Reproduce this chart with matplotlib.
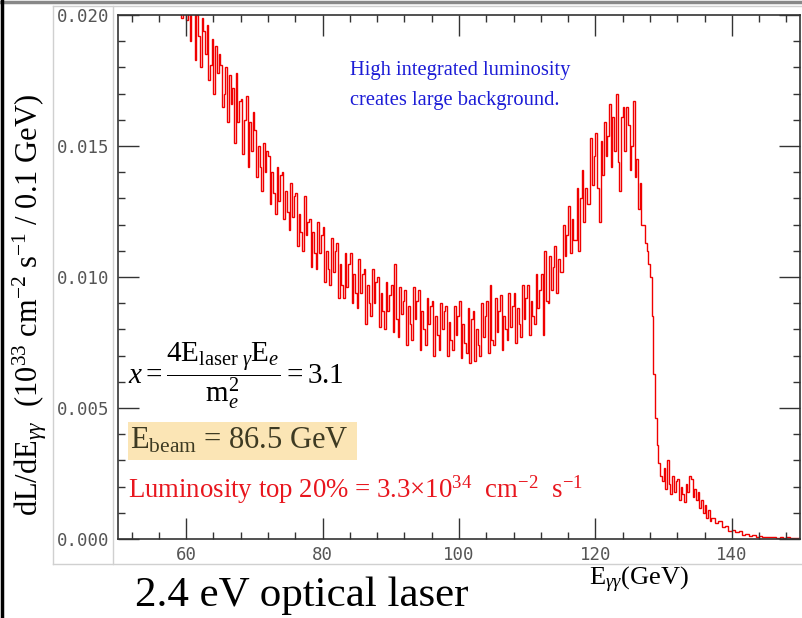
import matplotlib
matplotlib.use('Agg')
import matplotlib.pyplot as plt
import numpy as np
from matplotlib.patches import Rectangle
from matplotlib.lines import Line2D
from matplotlib.ticker import MultipleLocator, FormatStrFormatter

plt.rcParams['mathtext.fontset'] = 'custom'
plt.rcParams['mathtext.rm'] = 'Liberation Serif'
plt.rcParams['mathtext.it'] = 'Liberation Serif:italic'
plt.rcParams['mathtext.bf'] = 'Liberation Serif:bold'
plt.rcParams['font.family'] = ['Liberation Serif', 'DejaVu Serif']

# ---- data: dL/dE_gg in units of 1e-3 (10^33 cm^-2 s^-1 / 0.1 GeV)
# fine part: 0.25 GeV bins from 58 to 137 GeV (4 values per GeV per line)
fine_start, fine_width = 58.0, 0.25
lum_fine_e3 = [
    21.8, 20.8, 22.3, 20.5,   # 58
    21.4, 19.9, 20.6, 21.7,   # 59
    19.8, 21.3, 19.0, 20.8,   # 60
    20.3, 18.3, 20.0, 19.2,   # 61
    18.0, 19.9, 19.4, 18.5,   # 62
    19.6, 17.5, 18.1, 19.1,   # 63
    17.0, 18.8, 17.8, 18.5,   # 64
    18.1, 16.5, 17.0, 18.0,   # 65
    15.9, 17.7, 16.6, 17.2,   # 66
    15.1, 17.8, 15.9, 16.7,   # 67
    16.8, 14.7, 16.0, 16.9,   # 68
    14.2, 15.9, 14.8, 16.3,   # 69
    15.6, 13.8, 15.0, 14.2,   # 70
    13.3, 15.1, 14.0, 14.8,   # 71
    14.6, 12.8, 14.0, 13.2,   # 72
    12.4, 14.2, 12.9, 13.9,   # 73
    14.0, 12.2, 13.3, 12.5,   # 74
    11.8, 13.6, 12.3, 13.1,   # 75
    13.2, 11.2, 12.4, 11.7,   # 76
    11.0, 13.1, 11.6, 12.1,   # 77
    12.2, 10.4, 11.7, 10.9,   # 78
    10.3, 12.1, 10.9, 11.6,   # 79
    11.9, 9.8, 11.0, 10.3,    # 80
    9.7, 11.5, 10.2, 11.0,    # 81
    11.3, 9.2, 10.5, 9.7,     # 82
    9.2, 10.9, 9.6, 10.5,     # 83
    10.9, 9.0, 10.1, 9.4,     # 84
    8.8, 10.7, 9.4, 10.1,     # 85
    10.3, 8.2, 9.7, 9.0,      # 86
    8.5, 10.3, 9.0, 9.8,      # 87
    10.0, 8.1, 9.4, 8.7,      # 88
    8.0, 9.8, 8.7, 9.3,       # 89
    9.7, 7.9, 10.5, 8.4,      # 90
    7.7, 9.6, 8.6, 9.1,       # 91
    9.5, 7.4, 8.9, 8.2,       # 92
    7.6, 9.6, 8.4, 9.1,       # 93
    9.5, 7.2, 8.7, 8.0,       # 94
    7.4, 9.2, 8.2, 8.9,       # 95
    9.1, 7.0, 8.5, 7.8,       # 96
    7.2, 9.0, 8.0, 8.7,       # 97
    8.9, 7.0, 8.3, 7.6,       # 98
    7.2, 8.9, 7.8, 8.5,       # 99
    9.1, 6.9, 8.2, 7.5,       # 100
    7.1, 8.8, 6.7, 8.4,       # 101
    8.7, 6.8, 8.0, 7.4,       # 102
    7.0, 9.0, 7.7, 8.5,       # 103
    9.1, 7.1, 9.7, 7.6,       # 104
    7.4, 9.2, 7.9, 8.7,       # 105
    9.3, 7.2, 8.5, 8.0,       # 106
    7.6, 9.4, 8.1, 8.9,       # 107
    9.4, 7.5, 8.8, 8.2,       # 108
    7.7, 9.7, 8.4, 9.2,       # 109
    9.7, 7.8, 9.1, 8.5,       # 110
    8.2, 10.1, 8.8, 9.5,      # 111
    10.1, 7.8, 11.0, 9.1,     # 112
    9.0, 10.8, 9.5, 10.4,     # 113
    11.2, 9.4, 10.7, 10.2,    # 114
    10.2, 12.0, 10.8, 11.6,   # 115
    12.7, 10.9, 12.2, 11.4,   # 116
    11.4, 13.4, 11.0, 13.0,   # 117
    14.1, 12.1, 13.4, 12.8,   # 118
    12.8, 15.3, 13.5, 14.6,   # 119
    15.5, 13.4, 12.1, 15.2,   # 120
    13.9, 15.9, 14.6, 15.4,   # 121
    16.6, 14.2, 16.1, 14.8,   # 122
    17.0, 14.4, 13.3, 16.1,   # 123
    16.5, 14.8, 16.5, 15.8,   # 124
    14.1, 15.0, 16.7, 13.8,   # 125
    14.5, 12.6, 13.6, 12.0,   # 126
    12.0, 11.3, 11.0, 10.5,   # 127
    10.0, 8.5, 6.3, 4.6,      # 128
    3.6, 2.9, 2.4, 2.2,       # 129
    2.7, 1.9, 3.0, 2.1,       # 130
    1.7, 2.4, 1.8, 2.2,       # 131
    2.3, 1.5, 2.0, 1.7,       # 132
    1.4, 2.1, 1.8, 2.4,       # 133
    2.3, 1.6, 1.9, 1.5,       # 134
    1.8, 1.2, 1.5, 1.0,       # 135
    1.3, 0.8, 1.1, 0.7,       # 136
]
# tail: 0.5 GeV bins from 137 to 150 GeV
tail_width = 0.5
lum_tail_e3 = [
    0.8, 0.6, 0.7, 0.45, 0.5, 0.3, 0.35, 0.25, 0.3, 0.15,
    0.2, 0.12, 0.14, 0.09, 0.12, 0.07, 0.09, 0.06, 0.08, 0.05,
    0.07, 0.04, 0.06, 0.03, 0.05, 0.02,
]
x_ticks = [60, 80, 100, 120, 140]
y_ticks = [0.000, 0.005, 0.010, 0.015, 0.020]

W, H = 802, 618
fig = plt.figure(figsize=(W / 100, H / 100), dpi=100)
fig.patch.set_facecolor('white')


def T(x, y, s, **kw):
    return fig.text(x / W, 1 - y / H, s, **kw)


def L(xs, ys, **kw):
    fig.add_artist(Line2D([x / W for x in xs], [1 - y / H for y in ys],
                          transform=fig.transFigure, **kw))


# slide frame lines
L([0, W], [1.5, 1.5], color='#888888', lw=2.5)
L([1.5, 1.5], [0, H], color='#000000', lw=2.5)
L([53, 53], [6, 564], color='#d0d0d0', lw=1)
L([113, 113], [6, 564], color='#d0d0d0', lw=1)
L([53, W], [6, 6], color='#d0d0d0', lw=1)
L([53, W], [564, 564], color='#d0d0d0', lw=1)

ax = fig.add_axes([118 / W, 1 - 539 / H, (800 - 118) / W, (539 - 15) / H])
vals = np.array(lum_fine_e3 + lum_tail_e3) * 1e-3
fine_edges = fine_start + fine_width * np.arange(len(lum_fine_e3) + 1)
tail_edges = fine_edges[-1] + tail_width * np.arange(1, len(lum_tail_e3) + 1)
edges = np.concatenate([fine_edges, tail_edges])
ax.stairs(vals, edges, color='#f00000', lw=1.0, baseline=None)

ax.set_xlim(50, 150)
ax.set_ylim(0, 0.020)
ax.set_xticks(x_ticks)
ax.set_yticks(y_ticks)
ax.xaxis.set_minor_locator(MultipleLocator(4))
ax.yaxis.set_minor_locator(MultipleLocator(0.001))
ax.yaxis.set_major_formatter(FormatStrFormatter('%.3f'))
ax.tick_params(which='both', direction='in', top=True, right=True, color='#333333', width=1)
ax.tick_params(which='major', length=15)
ax.tick_params(which='minor', length=5)
ax.tick_params(axis='y', pad=6)
ax.tick_params(axis='x', pad=5)
for lab in ax.get_xticklabels() + ax.get_yticklabels():
    lab.set_fontfamily('DejaVu Sans Mono')
    lab.set_fontsize(12.5)
    lab.set_color('#555555')
for s in ax.spines.values():
    s.set_color('#333333')
    s.set_linewidth(1.2)

# axis labels
T(30, 305, r'dL/dE$_{\gamma\gamma}$  (10$^{33}$ cm$^{-2}$ s$^{-1}$ / 0.1 GeV)',
  rotation=90, ha='center', va='center', fontsize=22)
T(639, 580, r'E$_{\gamma\gamma}$(GeV)', ha='center', va='center', fontsize=19)
T(135, 596, '2.4 eV optical laser', ha='left', va='center', fontsize=31)

# annotations
T(350, 70, 'High integrated luminosity', ha='left', va='center', fontsize=14.8, color='#1c1cd6')
T(350, 101, 'creates large background.', ha='left', va='center', fontsize=14.8, color='#1c1cd6')

T(128, 376, r'$x = \dfrac{4\mathrm{E}_{\mathrm{laser}\ \gamma}\mathrm{E}_{e}}{\mathrm{m}_{e}^{2}} = 3.1$',
  ha='left', va='center', fontsize=21)

fig.add_artist(Rectangle((128 / W, 1 - 460 / H), (357 - 128) / W, 38 / H,
                         transform=fig.transFigure, facecolor='#fbe5b5', edgecolor='none'))
T(130, 441, r'E$_{\mathrm{beam}}$ = 86.5 GeV', ha='left', va='center', fontsize=22, color='#3d3a22')

T(128, 490, r'Luminosity top 20% = 3.3$\times$10$^{34}$  cm$^{-2}$  s$^{-1}$',
  ha='left', va='center', fontsize=19.3, color='#e8161e')

fig.savefig('out.png', dpi=100)
